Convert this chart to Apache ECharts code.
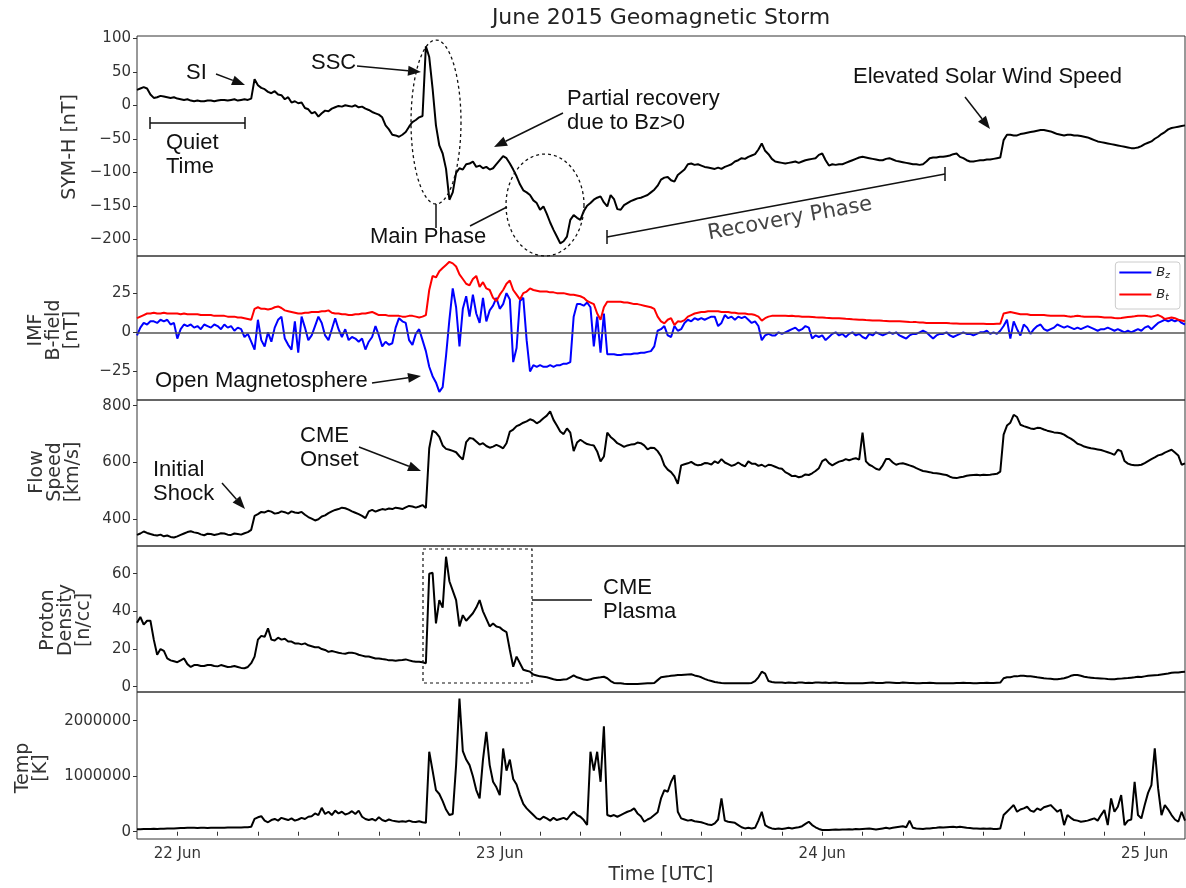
<!DOCTYPE html>
<html>
<head>
<meta charset="utf-8">
<title>June 2015 Geomagnetic Storm</title>
<script src="https://cdn.jsdelivr.net/npm/echarts@6/dist/echarts.min.js"></script>
<style>
  html, body { margin: 0; padding: 0; background: #fff; }
  #chart { width: 1186px; height: 888px; }
</style>
</head>
<body>
<div id="chart"></div>
<script>
// time grid: first sample 21 Jun 21:00 UTC, one value every 15 min
const T0 = Date.UTC(2015, 5, 21, 21, 0);
const T_END = Date.UTC(2015, 5, 25, 3, 0);
const QUARTER_HOUR = 15 * 60 * 1000;

// SYM-H [nT]
const symH = [
  23, 25, 27, 25, 16, 11, 12, 14, 13, 12,
  11, 12, 10, 9, 8, 9, 7, 6, 7, 6,
  6, 7, 7, 6, 7, 8, 8, 7, 8, 9,
  7, 8, 9, 8, 10, 39, 30, 26, 24, 20,
  18, 21, 16, 15, 9, 12, 4, 6, 3, 4,
  -4, -6, -12, -10, -17, -12, -8, -9, -5, -3,
  -1, -2, 0, -1, -2, 0, -3, -2, -5, -7,
  -10, -12, -14, -18, -30, -36, -44, -45, -47, -44,
  -40, -32, -25, -22, -18, -16, 88, 72, 25, -30,
  -60, -72, -95, -141, -130, -101, -94, -96, -88, -87,
  -84, -92, -90, -94, -92, -96, -94, -88, -82, -76,
  -79, -87, -96, -106, -118, -127, -130, -134, -142, -146,
  -156, -151, -162, -175, -186, -196, -206, -203, -196, -171,
  -164, -168, -171, -158, -150, -146, -141, -138, -136, -145,
  -151, -134, -140, -155, -156, -149, -146, -143, -141, -139,
  -138, -136, -134, -130, -126, -120, -111, -108, -107, -112,
  -114, -104, -100, -96, -88, -87, -89, -88, -90, -92,
  -93, -94, -95, -93, -95, -92, -90, -88, -84, -82,
  -79, -80, -77, -75, -73, -66, -57, -68, -73, -80,
  -84, -85, -86, -87, -86, -85, -84, -86, -84, -82,
  -81, -80, -79, -74, -72, -82, -90, -88, -89, -88,
  -88, -86, -84, -82, -80, -78, -77, -78, -79, -80,
  -81, -82, -82, -80, -79, -81, -83, -84, -85, -86,
  -87, -88, -88, -89, -88, -84, -79, -78, -78, -77,
  -77, -76, -75, -73, -72, -77, -79, -82, -84, -84,
  -83, -82, -82, -81, -81, -80, -79, -78, -52, -44,
  -44, -45, -45, -43, -42, -41, -40, -39, -38, -37,
  -37, -38, -39, -41, -43, -44, -45, -44, -44, -45,
  -45, -46, -47, -48, -50, -52, -54, -55, -56, -57,
  -58, -59, -60, -61, -62, -63, -64, -64, -63, -61,
  -58, -56, -54, -50, -47, -43, -40, -36, -34, -33,
  -32, -31, -30
];

// IMF |B| [nT]
const bTotal = [
  9, 10, 11, 12, 12, 12.5, 12, 12, 12.5, 12,
  12, 12, 12, 11.5, 12, 11.5, 11.5, 11.5, 11.5, 11,
  11, 11, 11, 10.5, 10.5, 10.5, 10.5, 10, 10, 10,
  9.5, 9.5, 9, 8.5, 8, 15, 16, 15, 15, 14.5,
  15, 16, 16.5, 15.5, 14, 13.5, 13, 12.5, 12, 12,
  12.5, 12.5, 13, 13, 13, 13.5, 13.5, 14, 12.5, 12,
  12, 11.5, 11.5, 11, 11, 11.5, 11.5, 12, 12, 12.5,
  13, 12, 11, 11, 11, 10.5, 10.5, 10.5, 10.5, 10,
  10, 10.5, 10.5, 10, 9.5, 10, 11, 27, 36, 35,
  39, 41, 43, 45, 44, 42, 37, 34, 31, 30,
  34, 36, 29, 32, 28, 27, 22, 20, 24, 27,
  31, 33, 27, 24, 21, 25, 26, 28, 27, 26.5,
  26, 26, 26, 25.5, 25.5, 25, 25, 25, 24.5, 24,
  24, 23.5, 23, 22, 20, 19, 18, 12, 8, 16,
  19.5, 19.5, 19.5, 19.5, 19.5, 19, 19, 18.5, 18, 18,
  17.5, 17, 16.5, 16, 15, 10, 7, 5.7, 8, 9,
  4.7, 7, 6.8, 7.8, 10, 11, 12, 12.5, 13, 13,
  13.5, 13.5, 13.5, 13.5, 13, 13, 13, 12.5, 12.5, 12,
  12, 12, 11.5, 11.5, 11, 10, 7.5, 9, 10, 10.5,
  10.5, 10.5, 10.5, 10.5, 10.4, 10.5, 10.3, 10.2, 10, 10,
  10, 9.8, 9.6, 9.5, 9.5, 9.3, 9.2, 9, 9, 8.9,
  8.8, 8.6, 8.5, 8.3, 8.2, 8, 8, 7.8, 7.7, 7.5,
  7.5, 7.5, 7.3, 7.2, 7, 7, 7, 7, 6.9, 6.8,
  6.6, 6.5, 6.5, 6.3, 6.2, 6, 6, 6, 6, 6,
  6, 6, 5.8, 5.7, 5.6, 5.5, 5.5, 5.5, 5.5, 5.5,
  5.5, 5.4, 5.4, 5.3, 5.3, 5.3, 5.4, 5.5, 12, 12.5,
  13, 12.5, 12, 11.5, 11.5, 11.5, 11, 11, 11, 11,
  11, 10.8, 10.5, 10.5, 10.5, 10.5, 10.5, 10.2, 10, 10.2,
  10.5, 10.2, 10, 10, 10, 10, 10, 9.8, 9.5, 9.5,
  9.5, 9.2, 9, 9.2, 9.5, 9.8, 10, 10.2, 10.5, 10.5,
  10.5, 10.2, 10, 10.5, 11, 10, 8.5, 9, 9.5, 9,
  8, 7.5, 7
];

// IMF Bz [nT]
const bZ = [
  -2, 3, 6, 5, 7, 7, 6, 8, 7, 8,
  5, 6, -4, 2, 5, 4, 5, 3, 4, 2,
  5, 4, 3, 5, 4, 2, 5, 3, 4, 1,
  3, 2, -3, -1, -6, -11, 8, -5, -9, 0,
  -6, 3, 8, 10, -4, -8, -11, 7, -13, 10,
  3, -5, -2, 4, 10, 6, -2, -5, 2, 9,
  2, -3, 2, -5, -3, -4, -6, -4, -11, -6,
  -3, 4, -2, -9, -6, -8, -7, 3, 9, 7,
  6, -5, -8, -1, 2, -5, -12, -22, -28, -32,
  -38, -35, -15, 8, 28, 16, -9, 15, 23, 10,
  24, 12, 6, 22, 7, 14, 17, 22, 15, 18,
  25, 21, -19, -10, 20, 22, -5, -25, -21, -22,
  -21, -22, -22, -21, -22, -21, -21, -20, -20, -19,
  10, 18, 18, 17, 19, 16, -9, 10, -13, 12,
  -14, -14, -14, -14.5, -14.5, -14, -14, -14, -13.5, -13.5,
  -13, -13, -12.5, -12, -9, 1, 2, 4, -2, -3,
  4, 1, 2, 6, 8, 7, 9, 8, 9, 8,
  9, 10, 10, 4, 6, 11, 9, 10, 8, 10,
  9, 10, 8, 6, 7, 4, -5, -2, -1, -2,
  -2, 0, -1, 0, 1, 2, 3, 1, 2, 4,
  3, -4, -2, -3, -2, -5, -3, -1, 0, -2,
  -1, -3, -1, 0, -2, -1, -3, -4, -1, -2,
  0, -1, -2, -1, 0, -1, 0, -2, -3, -4,
  -2, -1, -1, 0, 1, 0, -2, -4, -2, -1,
  -1, 0, -2, -3, -2, -1, 0, -1, -1, -2,
  -1, 0, 0, 1, -1, 0, -1, 1, 4, 8,
  -4, 7, 2, -2, 5, 3, -1, 2, 4, 5,
  2, 1, 2, 3, 5, 4, 3, 4, 3, 2,
  3, 2, 3, 4, 3, 2, 1, 2, 2, 3,
  2, 1, 2, 1, 0, 1, 0, 1, 2, 1,
  3, 4, 2, 4, 6, 7, 8, 7, 8, 7,
  8, 6, 5
];

// flow speed [km/s]
const flowSpeed = [
  345, 350, 357, 352, 348, 345, 343, 346, 340, 343,
  338, 336, 340, 345, 350, 355, 358, 354, 352, 347,
  344, 349, 348, 345, 347, 351, 350, 346, 345, 350,
  348, 346, 351, 355, 363, 412, 418, 426, 424, 430,
  427, 420, 422, 428, 425, 420, 428, 424, 422, 426,
  416, 408, 402, 396, 400, 410, 414, 422, 428, 433,
  436, 441, 439, 434, 428, 423, 418, 412, 404, 428,
  433, 427, 432, 436, 434, 438, 436, 441, 439, 436,
  442, 447, 445, 441, 445, 450, 440, 650, 712, 705,
  690, 660, 648, 645, 641, 636, 622, 610, 672, 686,
  684, 674, 663, 668, 658, 652, 656, 662, 657, 650,
  668, 709, 716, 728, 733, 740, 745, 752, 748, 738,
  745, 756, 765, 780, 750, 730, 709, 700, 720, 705,
  640, 670, 680, 672, 665, 662, 660, 639, 604, 621,
  705, 690, 680, 668, 662, 655, 660, 663, 664, 670,
  668, 660, 646, 652, 651, 640, 622, 590, 575, 566,
  551, 525, 590, 594, 597, 602, 594, 590, 592, 598,
  597, 593, 604, 598, 612, 600, 594, 588, 592, 600,
  592, 586, 604, 596, 596, 588, 592, 585, 592, 590,
  585, 580, 578, 566, 560, 552, 553, 548, 551, 558,
  556, 562, 570, 580, 605, 612, 598, 590, 597, 603,
  606, 612, 608, 612, 615, 610, 705, 604, 592, 586,
  578, 574, 590, 612, 612, 600, 592, 596, 597, 594,
  590, 586, 580, 575, 570, 568, 566, 563, 562, 560,
  558, 556, 550, 546, 545, 548, 550, 553, 555, 556,
  557, 555, 557, 556, 557, 559, 560, 568, 698, 730,
  740, 768, 760, 733, 728, 724, 720, 718, 722, 721,
  716, 712, 709, 706, 705, 703, 698, 690, 684, 676,
  666, 662, 656, 653, 650, 648, 646, 644, 640, 636,
  632, 627, 645, 640, 605, 596, 592, 590, 590, 592,
  598, 605, 612, 618, 625, 628, 635, 640, 645, 635,
  625, 592, 597
];

// proton density [n/cc]
const protonDensity = [
  34, 37, 33, 35, 35, 25, 17, 20, 19, 15,
  14, 13.5, 13, 14, 15, 12, 10.5, 11.5, 11.5, 11,
  11, 11.5, 11.5, 11, 10.8, 11.5, 11, 10.5, 10.6, 11,
  10.5, 10, 9.8, 10.5, 12.5, 16, 25, 27, 26.5, 31,
  25, 24.5, 26, 25, 25.5, 24, 24, 23, 23, 22.5,
  23, 22, 21.5, 21, 21, 20, 19.5, 18.5, 19, 18.5,
  18, 17.7, 17.5, 18, 18, 17.7, 17, 16.5, 16, 16,
  15.5, 15, 15, 14.7, 14.5, 14, 14, 13.8, 14, 14.2,
  14.5, 14, 13.5, 13.3, 13.3, 13, 12.5, 60, 60.5, 33.6,
  46, 42, 69, 56, 51, 46, 32, 38, 35, 37,
  39, 42, 46, 40, 36, 32, 33.6, 32, 31.5, 30,
  29, 19.5, 10.6, 16, 12.5, 9, 8.5, 8, 6.5, 6,
  5.5, 5.3, 5, 4.5, 4, 3.6, 3.6, 3.8, 4, 5,
  6, 5, 4.5, 3.8, 3.6, 4, 4.5, 4.8, 5, 5.3,
  4.5, 3, 2, 1.8, 1.8, 1.6, 1.5, 1.4, 1.5, 1.5,
  1.6, 1.7, 1.8, 1.8, 2, 3.5, 5, 5.3, 5.5, 5.8,
  6, 6.2, 6.2, 6.4, 6.5, 6.6, 6, 5.6, 5, 4.2,
  3.5, 3, 2.5, 2.2, 2, 1.9, 1.8, 1.8, 1.8, 1.8,
  1.8, 1.8, 1.8, 2, 3, 5, 8, 7, 3, 2.5,
  2.2, 2.2, 2.2, 2.0, 2.2, 2.1, 2.0, 2.2, 2.2, 2.0,
  2.1, 2.0, 2.2, 2.2, 2.1, 2.2, 2.0, 2.1, 2.2, 2.0,
  2.0, 1.9, 1.8, 1.8, 1.9, 1.8, 1.8, 2.0, 2.1, 2.2,
  2.0, 2.0, 2.0, 2.2, 2.2, 2.1, 2.0, 2.0, 2.2, 2.1,
  2.0, 2.0, 1.9, 1.8, 2.0, 2.0, 2.1, 2.0, 1.9, 1.8,
  1.8, 1.8, 1.9, 1.8, 2.0, 2.0, 2.1, 2.0, 2.0, 1.9,
  1.8, 2.0, 2.0, 2.1, 2.0, 2.0, 2.1, 2.2, 4.5, 5,
  5, 5.5, 5.5, 5.8, 5.8, 5.6, 5.5, 5.3, 5, 4.8,
  4.5, 4.3, 4.2, 4, 4, 4.2, 4.5, 5, 5.8, 6.2,
  6.2, 5.8, 5.3, 5, 4.8, 4.6, 4.5, 4.4, 4.3, 4.1,
  4, 4, 4.2, 4.3, 4.5, 4.6, 4.8, 5, 5.3, 5.2,
  5.5, 5.8, 6, 6.1, 6.2, 6.5, 6.8, 7, 7.4, 7.5,
  7.6, 7.8, 8
];

// proton temperature [K]
const temperature = [
  4.3e4, 4.5e4, 4.8e4, 5e4, 4.7e4, 5.2e4, 5e4, 5.5e4, 5.2e4, 5.8e4,
  6e4, 5.7e4, 6.2e4, 6.5e4, 6.8e4, 7e4, 7.2e4, 7e4, 6.8e4, 7.2e4,
  7e4, 6.8e4, 7.2e4, 7e4, 7.1e4, 7.3e4, 7.2e4, 7.5e4, 7.4e4, 7.6e4,
  7.8e4, 7.7e4, 8e4, 8.2e4, 9e4, 2.3e5, 2.6e5, 2.8e5, 2e5, 1.7e5,
  2.1e5, 2.3e5, 2e5, 2.5e5, 2.3e5, 2.1e5, 2.4e5, 2e5, 2.2e5, 2.5e5,
  2.3e5, 2.7e5, 2.8e5, 3.3e5, 3e5, 4.3e5, 3.2e5, 3.6e5, 3e5, 3.8e5,
  3.3e5, 3.6e5, 3.1e5, 3.3e5, 3.7e5, 3.2e5, 3.8e5, 2.7e5, 2.3e5, 2.1e5,
  2.3e5, 2e5, 2.6e5, 2.1e5, 1.9e5, 2.2e5, 2e5, 1.9e5, 1.8e5, 1.9e5,
  1.8e5, 2e5, 1.8e5, 1.75e5, 1.9e5, 1.7e5, 1.6e5, 1.44e6, 1.1e6, 7.5e5,
  6.8e5, 5.5e5, 4e5, 3e5, 3.2e5, 1.2e6, 2.4e6, 1.45e6, 1.3e6, 1.2e6,
  1e6, 7.5e5, 6e5, 1.3e6, 1.8e6, 1.2e6, 9e5, 8e5, 6.6e5, 1.5e6,
  1.1e6, 1.3e6, 9.5e5, 8.5e5, 6.6e5, 5e5, 4.2e5, 3.6e5, 3e5, 2.4e5,
  2.2e5, 2.7e5, 2.4e5, 2e5, 2.5e5, 2.1e5, 2.3e5, 2.5e5, 2.2e5, 3e5,
  3.6e5, 3e5, 2.7e5, 2.1e5, 1.2e5, 1.44e6, 1.1e6, 1.44e6, 9e5, 1.9e6,
  3e5, 2.8e5, 3e5, 2.7e5, 3e5, 3.3e5, 3.6e5, 3.8e5, 4.2e5, 3.3e5,
  2.8e5, 1.8e5, 2.2e5, 2.5e5, 3e5, 3.5e5, 6e5, 7.5e5, 7.2e5, 9e5,
  1.02e6, 3.6e5, 2.4e5, 2.2e5, 2e5, 2.1e5, 1.9e5, 1.8e5, 1.7e5, 1.5e5,
  1.3e5, 1.2e5, 1.5e5, 2.2e5, 6e5, 2e5, 1.8e5, 1.7e5, 1.6e5, 1.2e5,
  8e4, 6e4, 7e4, 6e4, 7e4, 2e5, 3.6e5, 1.2e5, 8e4, 6e4,
  5e4, 6e4, 5e4, 6e4, 7e4, 6e4, 7e4, 8e4, 1e5, 1.4e5,
  1.8e5, 1.2e5, 8e4, 5e4, 3e4, 3e4, 3e4, 3.5e4, 4e4, 3.5e4,
  4e4, 4e4, 4.5e4, 4e4, 5e4, 4.5e4, 5e4, 5.5e4, 6e4, 5e4,
  4e4, 5e4, 6e4, 7e4, 6e4, 7e4, 8e4, 9e4, 1e5, 8e4,
  2e5, 7e4, 6e4, 5.5e4, 5e4, 6e4, 6e4, 6.5e4, 7e4, 8e4,
  7.5e4, 8e4, 8.5e4, 9e4, 8e4, 9e4, 8e4, 7e4, 6.5e4, 6e4,
  6e4, 5.5e4, 6e4, 5.5e4, 6e4, 5e4, 5e4, 6e4, 3e5, 3.6e5,
  4.2e5, 4.8e5, 3.6e5, 4e5, 4.2e5, 4.5e5, 3.8e5, 3.6e5, 4.2e5, 3.9e5,
  4.4e5, 4.6e5, 4.8e5, 4.2e5, 3.6e5, 4e5, 1.2e5, 3e5, 2.5e5, 2.1e5,
  2e5, 1.8e5, 1.9e5, 2e5, 2.2e5, 2.4e5, 2e5, 3e5, 3.9e5, 1.2e5,
  6e5, 3.6e5, 4.5e5, 6.6e5, 1.2e5, 2e5, 2.2e5, 9e5, 3e5, 2.4e5,
  4.8e5, 7e5, 8.4e5, 1.5e6, 7.8e5, 3e5, 4.8e5, 4e5, 3e5, 2.2e5,
  1.8e5, 3.6e5, 2e5
];

// tick labels
const symHTicks = [-200, -150, -100, -50, 0, 50, 100];
const bTicks = [-25, 0, 25];
const speedTicks = [400, 600, 800];
const densityTicks = [0, 20, 40, 60];
const tempTicks = [0, 1000000, 2000000];
const dayTicks = [22, 23, 24, 25].map(d => Date.UTC(2015, 5, d));
const hourTicks = [];
for (let t = Date.UTC(2015, 5, 22); t <= Date.UTC(2015, 5, 25); t += 3 * 3600 * 1000) hourTicks.push(t);

function pairs(values) {
  return values.map((v, i) => [T0 + i * QUARTER_HOUR, v]);
}

const FONT = 'DejaVu Sans';
const ANNO_FONT = 'Liberation Sans';
const INK = '#111';

// panel layout (px)
const panels = [
  { top: 36, height: 220, min: -225, max: 103.4, ticks: symHTicks },
  { top: 256, height: 144, min: -43.2, max: 48.7, ticks: bTicks },
  { top: 400, height: 146, min: 306, max: 820, ticks: speedTicks },
  { top: 546, height: 146, min: -2.8, max: 74.7, ticks: densityTicks },
  { top: 692, height: 147, min: -131000, max: 2517000, ticks: tempTicks }
];

function fmtNum(v) {
  return v < 0 ? '\u2212' + (-v) : String(v);
}

const grid = panels.map(p => ({
  left: 137, right: 1, top: p.top, height: p.height,
  show: true, borderColor: '#333', borderWidth: 1, backgroundColor: 'transparent'
}));

// x is plain epoch milliseconds on a value axis
const xAxis = panels.map((p, k) => ({
  type: 'value', gridIndex: k, min: T0, max: T_END,
  axisLine: { show: false },
  axisTick: { show: k === 4, customValues: hourTicks, length: 4, lineStyle: { color: '#333' } },
  axisLabel: {
    show: k === 4, customValues: dayTicks, fontSize: 15, fontFamily: FONT, color: '#333', margin: 8,
    formatter: v => new Date(v).getUTCDate() + ' Jun'
  },
  splitLine: { show: false }
}));

const yAxis = panels.map((p, k) => ({
  type: 'value', gridIndex: k, min: p.min, max: p.max,
  axisLine: { show: false },
  axisTick: { show: true, customValues: p.ticks, length: 4, lineStyle: { color: '#333' } },
  axisLabel: { customValues: p.ticks, fontSize: 15, fontFamily: FONT, color: '#333', margin: 6, formatter: fmtNum },
  splitLine: { show: false }
}));

function lineSeries(k, values, color, name) {
  return {
    name: name, type: 'line', xAxisIndex: k, yAxisIndex: k, data: pairs(values),
    showSymbol: false, symbol: 'none', animation: false,
    lineStyle: { color: color, width: 2 }, itemStyle: { color: color }
  };
}

const btSeries = lineSeries(1, bTotal, '#ff0000', 'Bt');
btSeries.markLine = {
  silent: true, symbol: 'none', animation: false, label: { show: false },
  lineStyle: { color: '#555', width: 1.5, type: 'solid' },
  data: [{ yAxis: 0 }]
};

const series = [
  lineSeries(0, symH, '#000'),
  lineSeries(1, bZ, '#0000ff', 'Bz'),
  btSeries,
  lineSeries(2, flowSpeed, '#000'),
  lineSeries(3, protonDensity, '#000'),
  lineSeries(4, temperature, '#000')
];

// ---- annotation helpers ----
function text(x, y, str, opts) {
  return {
    type: 'text', x: x, y: y, z: 100,
    style: Object.assign({
      text: str, font: '22px "' + ANNO_FONT + '"', fill: INK,
      align: 'left', verticalAlign: 'middle', lineHeight: 24
    }, opts || {})
  };
}
function seg(x1, y1, x2, y2, extra) {
  return {
    type: 'line', z: 100, shape: { x1: x1, y1: y1, x2: x2, y2: y2 },
    style: Object.assign({ stroke: INK, lineWidth: 1.5 }, extra || {})
  };
}
function arrow(x1, y1, x2, y2) {
  const a = Math.atan2(y2 - y1, x2 - x1), L = 13, W = 5;
  const bx = x2 - L * Math.cos(a), by = y2 - L * Math.sin(a);
  return [
    seg(x1, y1, bx, by),
    {
      type: 'polygon', z: 100,
      shape: { points: [[x2, y2], [bx - W * Math.sin(a), by + W * Math.cos(a)], [bx + W * Math.sin(a), by - W * Math.cos(a)]] },
      style: { fill: INK }
    }
  ];
}
function ellipse(cx, cy, rx, ry) {
  const pts = [];
  for (let i = 0; i < 90; i++) {
    const t = i / 90 * Math.PI * 2;
    pts.push([cx + rx * Math.cos(t), cy + ry * Math.sin(t)]);
  }
  return {
    type: 'polygon', z: 100, shape: { points: pts },
    style: { fill: 'none', stroke: INK, lineWidth: 1.3, lineDash: [3, 3] }
  };
}
function axisName(x, y, str) {
  return {
    type: 'text', x: x, y: y, rotation: Math.PI / 2, z: 100,
    style: { text: str, font: '19px "' + FONT + '"', fill: '#333', align: 'center', verticalAlign: 'middle', lineHeight: 18 }
  };
}

const graphic = [
  // title and axis names
  { type: 'text', x: 661, y: 18, z: 100, style: { text: 'June 2015 Geomagnetic Storm', font: '22px "' + FONT + '"', fill: '#222', align: 'center', verticalAlign: 'middle' } },
  { type: 'text', x: 661, y: 875, z: 100, style: { text: 'Time [UTC]', font: '19px "' + FONT + '"', fill: '#333', align: 'center', verticalAlign: 'middle' } },
  axisName(70, 147, 'SYM-H [nT]'),
  axisName(54, 330, 'IMF\nB-field\n[nT]'),
  axisName(55, 472, 'Flow\nSpeed\n[km/s]'),
  axisName(66, 620, 'Proton\nDensity\n[n/cc]'),
  axisName(32, 768, 'Temp\n[K]'),

  // SYM-H panel
  text(186, 73, 'SI'),
  ...arrow(216, 74, 245, 85),
  text(166, 155, 'Quiet\nTime'),
  seg(150, 123, 245, 123), seg(150, 117, 150, 129), seg(245, 117, 245, 129),
  text(311, 63, 'SSC'),
  ...arrow(357, 66, 421, 72),
  ellipse(436, 122, 25, 82),
  seg(436, 204, 436, 228),
  text(370, 237, 'Main Phase'),
  seg(470, 226, 507, 207),
  ellipse(545, 205, 39, 51),
  text(567, 111, 'Partial recovery\ndue to Bz>0'),
  ...arrow(563, 113, 494, 147),
  text(853, 77, 'Elevated Solar Wind Speed'),
  ...arrow(965, 97, 990, 129),
  seg(607, 237, 945, 174), seg(607, 230, 607, 244), seg(945, 167, 945, 181),
  { type: 'text', x: 790, y: 219, rotation: 0.18, z: 100,
    style: { text: 'Recovery Phase', font: '21px "' + FONT + '"', fill: '#444', align: 'center', verticalAlign: 'middle' } },

  // IMF panel
  text(155, 381, 'Open Magnetosphere'),
  ...arrow(372, 383, 421, 376),

  // flow speed panel
  text(153, 482, 'Initial\nShock'),
  ...arrow(222, 483, 245, 509),
  text(300, 448, 'CME\nOnset'),
  ...arrow(359, 447, 421, 471),

  // density panel
  { type: 'rect', z: 100, shape: { x: 423, y: 549, width: 109, height: 134 },
    style: { fill: 'none', stroke: INK, lineWidth: 1.2, lineDash: [3, 3] } },
  seg(532, 600, 592, 600),
  text(603, 600, 'CME\nPlasma')
];

const chart = echarts.init(document.getElementById('chart'), null, { renderer: 'canvas' });
chart.setOption({
  animation: false,
  backgroundColor: '#fff',
  textStyle: { fontFamily: FONT },
  grid: grid,
  xAxis: xAxis,
  yAxis: yAxis,
  legend: {
    data: ['Bz', 'Bt'], orient: 'vertical', right: 6, top: 262,
    icon: 'rect', itemWidth: 32, itemHeight: 2, itemGap: 8,
    backgroundColor: '#fff', borderColor: '#ccc', borderWidth: 1, borderRadius: 3,
    padding: [4, 10, 7, 4],
    formatter: name => name === 'Bz' ? '{b|B}{s|z}' : '{b|B}{s|t}',
    textStyle: {
      rich: {
        b: { fontSize: 13, fontStyle: 'italic', fontFamily: FONT, color: '#222', lineHeight: 16 },
        s: { fontSize: 9, fontStyle: 'italic', fontFamily: FONT, color: '#222', padding: [6, 0, 0, 0] }
      }
    }
  },
  series: series,
  graphic: graphic
});
</script>
</body>
</html>
